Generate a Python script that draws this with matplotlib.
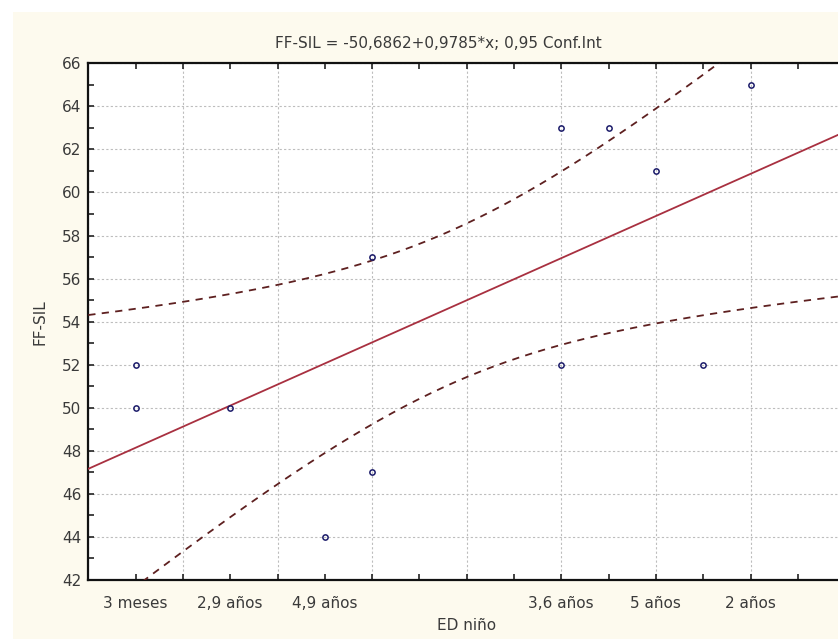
import numpy as np
import matplotlib
matplotlib.use("Agg")
import matplotlib.pyplot as plt
from matplotlib.patches import Rectangle

# data (x = ED niño on numeric scale, y = FF-SIL)
ed_x = np.array([101, 101, 103, 105, 106, 106, 110, 110, 111, 112, 113, 114], dtype=float)
ffsil_y = np.array([52, 50, 50, 44, 47, 57, 63, 52, 63, 61, 52, 65], dtype=float)

# text labels shown under the x axis and where they sit
label_pos = [101, 103, 105, 110, 112, 114]
label_txt = ["3 meses", "2,9 años", "4,9 años", "3,6 años", "5 años", "2 años"]

t_crit = 2.2281  # t(0.975, df=10)

# regression + 95% confidence band of the mean
n = len(ed_x)
xm, ym = ed_x.mean(), ffsil_y.mean()
sxx = np.sum((ed_x - xm) ** 2)
slope = np.sum((ed_x - xm) * (ffsil_y - ym)) / sxx
icpt = ym - slope * xm
resid = ffsil_y - (icpt + slope * ed_x)
s = np.sqrt(np.sum(resid ** 2) / (n - 2))

xx = np.linspace(100, 116, 300)
yy = icpt + slope * xx
half = t_crit * s * np.sqrt(1.0 / n + (xx - xm) ** 2 / sxx)

plt.rcParams['font.family'] = ['DejaVu Sans']
fs = 11
txt_col = '#3a3a3a'

fig = plt.figure(figsize=(8.38, 6.39), dpi=100)
fig.patch.set_facecolor('white')

# cream panel behind the chart
fig.patches.append(Rectangle((13 / 838, 0), 1, (639 - 12) / 639, transform=fig.transFigure,
                             facecolor='#fdfaee', edgecolor='none', zorder=-10))

ax = fig.add_axes([88.3 / 838, 59 / 639, 756.8 / 838, 516.7 / 639])
ax.set_facecolor('white')

ax.plot(xx, yy, color='#a83040', lw=1.3, zorder=3)
ax.plot(xx, yy + half, color='#5e2020', lw=1.3, ls=(0, (4, 3.5)), zorder=3)
ax.plot(xx, yy - half, color='#5e2020', lw=1.3, ls=(0, (4, 3.5)), zorder=3)
ax.plot(ed_x, ffsil_y, 'o', ms=3.8, mfc='none', mec='#1c1c6a', mew=1.1, zorder=4)

ax.set_xlim(100, 116)
ax.set_ylim(42, 66)
ax.set_xticks(np.arange(100, 117, 2))
ax.set_xticks(np.arange(101, 117, 2), minor=True)
ax.set_xticklabels([])
ax.set_yticks(np.arange(42, 67, 2))
ax.set_yticks(np.arange(43, 66, 2), minor=True)

ax.tick_params(which='both', direction='in', length=4, width=1.2, color='#222222',
               top=True, right=True)
ax.tick_params(axis='y', labelsize=fs, labelcolor=txt_col, pad=5)

for sp in ax.spines.values():
    sp.set_linewidth(1.6)
    sp.set_color('#111111')

ax.grid(True, which='major', color='#bdbdbd', lw=0.8, ls=(0, (2, 2)))
ax.set_axisbelow(True)

for p, t in zip(label_pos, label_txt):
    ax.text(p, -0.03, t, transform=ax.get_xaxis_transform(), ha='center', va='top',
            fontsize=fs, color=txt_col)

ax.set_ylabel('FF-SIL', fontsize=fs, color=txt_col, labelpad=10)
fig.text(467 / 838, 14 / 639, 'ED niño', ha='center', va='center', fontsize=fs, color=txt_col)
fig.text(438 / 838, 1 - 44 / 639, 'FF-SIL = -50,6862+0,9785*x; 0,95 Conf.Int',
         ha='center', va='center', fontsize=fs, color=txt_col)

fig.savefig('out.png', dpi=100, facecolor=fig.get_facecolor())
